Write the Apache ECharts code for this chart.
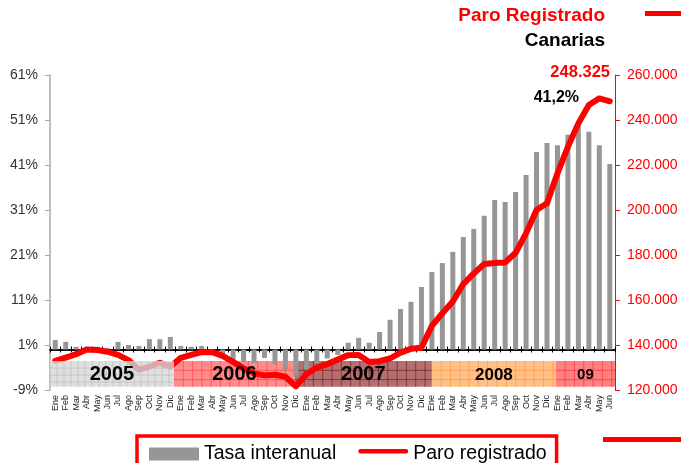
<!DOCTYPE html>
<html>
<head>
<meta charset="utf-8">
<script src="https://cdn.jsdelivr.net/npm/echarts@6/dist/echarts.min.js"></script>
<style>
  html, body { margin: 0; padding: 0; background: #fff; }
  #chart { width: 681px; height: 463px; }
</style>
</head>
<body>
<div id="chart"></div>
<script>
'use strict';

// meses Ene 2005 .. Jun 2009
var monthNames = ['Ene', 'Feb', 'Mar', 'Abr', 'May', 'Jun', 'Jul', 'Ago', 'Sep', 'Oct', 'Nov', 'Dic'];
var months = [].concat(monthNames, monthNames, monthNames, monthNames, monthNames.slice(0, 6));

// tasa interanual (%)
var tasa = [
    2.1, 1.7, 0.6, 0.6, 0.6, 0.3, 1.7, 1.0, 0.8, 2.3, 2.3, 2.8,
    0.8, 0.6, 0.8, -0.5, -1.2, -2.3, -2.8, -3.0, -1.9, -3.3, -4.5, -6.0,
    -4.5, -3.0, -2.0, -1.2, 1.5, 2.6, 1.5, 3.9, 6.6, 9.0, 10.6, 13.9,
    17.2, 19.2, 21.7, 25.0, 26.8, 29.7, 33.2, 32.8, 35.0, 38.8, 43.9, 45.9,
    45.4, 47.7, 49.6, 48.4, 45.4, 41.2
];

// paro registrado (personas)
var paro = [
    133000, 134400, 135900, 138000, 137800, 137000, 135600, 133300, 129000, 130400, 132100, 130400,
    134300, 135600, 136800, 136800, 135200, 132500, 129600, 127400, 126500, 126800, 125900, 121700,
    127000, 130000, 131500, 133500, 135500, 135600, 132500, 132800, 134000, 136600, 138300, 138800,
    148500, 154100, 159300, 167100, 171800, 176000, 176400, 176700, 181000, 189600, 200000, 203000,
    216300, 228100, 238500, 246700, 249600, 248325
];

// eje izquierdo
var leftTicks = ['-9%', '1%', '11%', '21%', '31%', '41%', '51%', '61%'];

// franjas de años (posición en meses desde Ene 2005)
var bandLabels = ['2005', '2006', '2007', '2008', '09'];
var bandStart = [0, 11.85, 23.4, 36.5, 48.35];
var bandEnd = [11.85, 23.4, 36.5, 48.35, 54];

var bandStyle = {
    '2005': { fill: 'rgba(214,214,214,0.78)', grid: 'rgba(185,185,185,0.8)', step: 7, font: 20 },
    '2006': { fill: 'rgba(255,120,120,0.85)', grid: 'rgba(255,70,70,0.9)', step: 9.3, font: 20 },
    '2007': { fill: 'rgba(172,96,96,0.9)', grid: 'rgba(120,30,30,0.9)', step: 9.3, font: 20 },
    '2008': { fill: 'rgba(255,190,130,0.95)', grid: 'rgba(255,150,70,0.9)', step: 9.3, font: 17 },
    '09': { fill: 'rgba(255,115,115,0.9)', grid: 'rgba(255,50,50,0.9)', step: 9.3, font: 15 }
};
var BAND_TOP = -2.56, BAND_BOTTOM = -8.3;
var FONT = 'Arial, "Liberation Sans", sans-serif';

function fmtMiles(v) {
    return String(v).replace(/\B(?=(\d{3})+(?!\d))/g, '.');
}

function drawBand(withLabels, which) {
    return function (params, api) {
        var name = bandLabels[params.dataIndex];
        var st = bandStyle[name];
        var p0 = api.coord([api.value(0), BAND_TOP]);
        var p1 = api.coord([api.value(1), BAND_BOTTOM]);
        var children = [];
        if (which(name)) {
            children.push({
                type: 'rect',
                shape: { x: p0[0], y: p0[1], width: p1[0] - p0[0], height: p1[1] - p0[1] },
                style: { fill: st.fill }
            });
            for (var x = p0[0] + st.step; x < p1[0] - 1; x += st.step) {
                children.push({
                    type: 'line',
                    shape: { x1: x, y1: p0[1], x2: x, y2: p1[1] },
                    style: { stroke: st.grid, lineWidth: 0.8 }
                });
            }
            for (var y = p0[1] + st.step; y < p1[1] - 1; y += st.step) {
                children.push({
                    type: 'line',
                    shape: { x1: p0[0], y1: y, x2: p1[0], y2: y },
                    style: { stroke: st.grid, lineWidth: 0.8 }
                });
            }
        }
        if (withLabels) {
            children.push({
                type: 'text',
                style: {
                    text: name,
                    x: (p0[0] + p1[0]) / 2,
                    y: (p0[1] + p1[1]) / 2 + 1,
                    align: 'center',
                    verticalAlign: 'middle',
                    fill: '#000',
                    font: 'bold ' + st.font + 'px ' + FONT
                }
            });
        }
        return { type: 'group', children: children };
    };
}

var bandData = bandLabels.map(function (n, i) { return [bandStart[i], bandEnd[i]]; });

var chart = echarts.init(document.getElementById('chart'), null, { renderer: 'canvas' });

var option = {
    animation: false,
    backgroundColor: '#fff',
    grid: { left: 50, right: 66, top: 75, bottom: 73 },
    legend: {
        left: 137,
        top: 436,
        padding: [8, 10, 20, 12],
        borderColor: '#ff0000',
        borderWidth: 3.5,
        itemWidth: 50,
        itemHeight: 13,
        itemGap: 22,
        textStyle: { fontSize: 19.5, color: '#000', fontFamily: FONT },
        data: [
            { name: 'Tasa interanual', icon: 'rect' },
            // linea gruesa con extremos redondeados, centrada algo arriba
            { name: 'Paro registrado', icon: 'path://M0,0 M2.5,1 L51.5,1 A2.5,2.5 0 0 1 51.5,6 L2.5,6 A2.5,2.5 0 0 1 2.5,1 Z M54,13' }
        ]
    },
    xAxis: [
        {
            type: 'category', data: months, position: 'bottom',
            axisLine: { show: false, onZero: false }, axisTick: { show: false },
            axisLabel: { interval: 0, rotate: 90, fontSize: 9, color: '#222', fontFamily: FONT, margin: 5 }
        },
        {
            type: 'category', data: months, position: 'bottom',
            axisLine: { onZero: true, onZeroAxisIndex: 0, lineStyle: { color: '#000', width: 1.5 } },
            axisTick: { show: true, interval: 0, length: 3, lineStyle: { color: '#000' } },
            axisLabel: { show: false }
        },
        {
            type: 'category', data: months, position: 'top',
            axisLine: { onZero: true, onZeroAxisIndex: 0, lineStyle: { color: '#000', width: 1.5 } },
            axisTick: { show: true, interval: 0, length: 3, lineStyle: { color: '#000' } },
            axisLabel: { show: false }
        },
        { type: 'value', min: 0, max: 54, show: false, position: 'top' }
    ],
    yAxis: [
        { type: 'value', min: -9, max: 61, show: false, position: 'left', axisLine: { onZero: false } },
        {
            type: 'value', min: 120000, max: 260000, interval: 20000, position: 'right',
            axisLine: { show: true, onZero: false, lineStyle: { color: '#ff0000', width: 1 } },
            axisTick: { show: true, length: 5, lineStyle: { color: '#ff0000' } },
            axisLabel: { color: '#ff0000', fontSize: 14, fontFamily: FONT, margin: 12, formatter: fmtMiles },
            splitLine: { show: false }
        },
        {
            type: 'category', data: leftTicks, position: 'left', boundaryGap: false,
            axisLine: { show: true, onZero: false, lineStyle: { color: '#a8a8a8', width: 1.5 } },
            axisTick: { show: true, length: 5, interval: 0, lineStyle: { color: '#a8a8a8' } },
            axisLabel: { color: '#333', fontSize: 14, fontFamily: FONT, margin: 12, interval: 0 },
            splitLine: { show: false }
        }
    ],
    series: [
        {
            name: 'bandas',
            type: 'custom',
            xAxisIndex: 3, yAxisIndex: 0,
            z: 1,
            silent: true,
            renderItem: drawBand(false, function (n) { return n !== '2005'; }),
            data: bandData
        },
        {
            name: 'Tasa interanual',
            type: 'bar',
            xAxisIndex: 0, yAxisIndex: 0,
            barWidth: 5,
            z: 2,
            itemStyle: { color: '#969696' },
            data: tasa
        },
        {
            name: 'Paro registrado',
            type: 'line',
            xAxisIndex: 0, yAxisIndex: 1,
            symbol: 'none',
            z: 3,
            lineStyle: { color: '#ff0000', width: 6, cap: 'round', join: 'round' },
            itemStyle: { color: '#ff0000' },
            data: paro
        },
        {
            name: 'bandas-top',
            type: 'custom',
            xAxisIndex: 3, yAxisIndex: 0,
            z: 4,
            silent: true,
            renderItem: drawBand(true, function (n) { return n === '2005'; }),
            data: bandData
        }
    ],
    graphic: [
        { type: 'text', style: { text: 'Paro Registrado', x: 605, y: 16, align: 'right', verticalAlign: 'middle', fill: '#ff0000', font: 'bold 19px ' + FONT } },
        { type: 'text', style: { text: 'Canarias', x: 605, y: 41, align: 'right', verticalAlign: 'middle', fill: '#000', font: 'bold 19px ' + FONT } },
        { type: 'rect', shape: { x: 645, y: 11, width: 40, height: 5 }, style: { fill: '#ff0000' } },
        { type: 'text', style: { text: fmtMiles(paro[paro.length - 1]), x: 610, y: 72, align: 'right', verticalAlign: 'middle', fill: '#ff0000', font: 'bold 16.5px ' + FONT } },
        { type: 'text', style: { text: String(tasa[tasa.length - 1]).replace('.', ',') + '%', x: 579, y: 98, align: 'right', verticalAlign: 'middle', fill: '#000', font: 'bold 16px ' + FONT } },
        { type: 'rect', shape: { x: 603, y: 437, width: 80, height: 5 }, style: { fill: '#ff0000' } }
    ]
};

chart.setOption(option);
</script>
</body>
</html>
